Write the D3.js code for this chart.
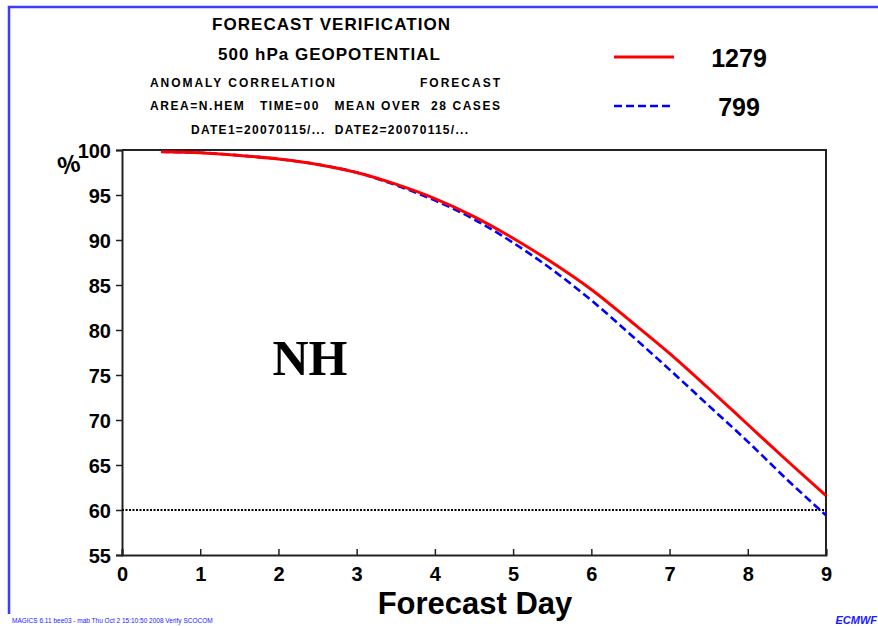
<!DOCTYPE html>
<html>
<head>
<meta charset="utf-8">
<script src="https://cdn.jsdelivr.net/npm/d3@7"></script>
<style>
  body { margin: 0; background: #fff; }
  svg { display: block; font-family: "Liberation Sans", Arial, sans-serif; }
</style>
</head>
<body>
<div id="container"></div>
<script>
/* CONSTANTS AND GLOBALS */
const width = 878,
  height = 626,
  margin = { top: 150, bottom: 71, left: 122, right: 52 };

// DATA (forecast day, anomaly correlation %)
const days = [0.5, 1, 1.5, 2, 2.5, 3, 3.5, 4, 4.5, 5, 5.5, 6, 6.5, 7, 7.5, 8, 8.5, 9];
const acc1279 = [99.8, 99.7, 99.4, 99.0, 98.4, 97.5, 96.2, 94.6, 92.6, 90.2, 87.5, 84.5, 81.0, 77.4, 73.5, 69.5, 65.5, 61.6];
const acc799 = [99.8, 99.7, 99.4, 99.0, 98.4, 97.5, 96.1, 94.4, 92.3, 89.7, 86.7, 83.3, 79.5, 75.6, 71.6, 67.6, 63.4, 59.4];
const xTicks = [0, 1, 2, 3, 4, 5, 6, 7, 8, 9];
const yTicks = [55, 60, 65, 70, 75, 80, 85, 90, 95, 100];
const refLine = 60;

const series = [
  { name: "1279", values: acc1279, color: "#ff0000", dash: null, width: 3 },
  { name: "799", values: acc799, color: "#0000ff", dash: "8,4", width: 2.6 }
];

const svg = d3.select("#container")
  .append("svg")
  .attr("width", width)
  .attr("height", height);

// BLUE PAGE FRAME
svg.append("path")
  .attr("d", `M9,614 L9,7 L${width},7`)
  .attr("fill", "none")
  .attr("stroke", "#3c3cff")
  .attr("stroke-width", 2.5);

// TITLES
const header = [
  { t: "FORECAST VERIFICATION", x: 212, y: 30, size: 17, len: 238 },
  { t: "500 hPa GEOPOTENTIAL", x: 218, y: 60, size: 17, len: 222 },
  { t: "ANOMALY CORRELATION", x: 150, y: 87, size: 12, len: 185 },
  { t: "FORECAST", x: 420, y: 87, size: 12, len: 80 },
  { t: "AREA=N.HEM   TIME=00   MEAN OVER  28 CASES", x: 150, y: 110, size: 12, len: 350 },
  { t: "DATE1=20070115/...  DATE2=20070115/...", x: 191, y: 134, size: 12, len: 277 }
];
svg.selectAll("text.header")
  .data(header)
  .join("text")
  .attr("class", "header")
  .attr("x", d => d.x)
  .attr("y", d => d.y)
  .attr("textLength", d => d.len)
  .attr("lengthAdjust", "spacing")
  .attr("xml:space", "preserve")
  .style("font-size", d => d.size + "px")
  .style("font-weight", "bold")
  .style("white-space", "pre")
  .text(d => d.t);

// SCALES
const x = d3.scaleLinear()
  .domain([0, 9])
  .range([margin.left, width - margin.right]);
const y = d3.scaleLinear()
  .domain([55, 100])
  .range([height - margin.bottom, margin.top]);

// AXES
const xAxis = svg.append("g")
  .attr("transform", `translate(0, ${y(55)})`)
  .call(d3.axisBottom(x).tickValues(xTicks).tickSize(-6).tickPadding(12).tickFormat(d3.format("d")));
const yAxis = svg.append("g")
  .attr("transform", `translate(${x(0)}, 0)`)
  .call(d3.axisLeft(y).tickValues(yTicks).tickSize(6).tickPadding(5).tickFormat(d3.format("d")));

[xAxis, yAxis].forEach(g => {
  g.select(".domain").attr("stroke", "#222").attr("stroke-width", 2);
  g.selectAll(".tick line").attr("stroke", "#222").attr("stroke-width", 1.5);
  g.selectAll(".tick text")
    .attr("fill", "#000")
    .style("font-size", "20px")
    .style("font-weight", "bold")
    .style("font-family", "'Liberation Sans', Arial, sans-serif");
});
yAxis.selectAll(".tick text").attr("dy", "0.36em");

// TOP AND RIGHT BORDER
svg.append("path")
  .attr("d", `M${x(0)},${y(100)} L${x(9)},${y(100)} L${x(9)},${y(55)}`)
  .attr("fill", "none")
  .attr("stroke", "#222")
  .attr("stroke-width", 2);

// 60% REFERENCE LINE
svg.append("line")
  .attr("x1", x(0))
  .attr("x2", x(9))
  .attr("y1", y(refLine))
  .attr("y2", y(refLine))
  .attr("stroke", "#000")
  .attr("stroke-width", 2)
  .attr("stroke-dasharray", "2,1.5");

// LINES
const line = d3.line()
  .x((d, i) => x(days[i]))
  .y(d => y(d))
  .curve(d3.curveMonotoneX);

svg.selectAll("path.series")
  .data(series.slice().reverse())
  .join("path")
  .attr("class", "series")
  .attr("d", d => line(d.values))
  .attr("fill", "none")
  .attr("stroke", d => d.color)
  .attr("stroke-width", d => d.width)
  .attr("stroke-dasharray", d => d.dash);

// LEGEND
const legend = svg.selectAll("g.legend-item")
  .data(series)
  .join("g")
  .attr("class", "legend-item")
  .attr("transform", (d, i) => `translate(614, ${57 + i * 49})`);
legend.append("line")
  .attr("x1", 0)
  .attr("x2", 60)
  .attr("stroke", d => d.color)
  .attr("stroke-width", d => d.width)
  .attr("stroke-dasharray", d => d.dash);
legend.append("text")
  .attr("x", 125)
  .attr("y", 10)
  .attr("text-anchor", "middle")
  .style("font-size", "25px")
  .style("font-weight", "bold")
  .text(d => d.name);

// AXIS TITLES AND LABELS
svg.append("text")
  .attr("x", 69)
  .attr("y", 173)
  .attr("text-anchor", "middle")
  .attr("transform", "rotate(-12, 69, 165)")
  .style("font-size", "25px")
  .style("font-weight", "bold")
  .text("%");

svg.append("text")
  .attr("x", 475)
  .attr("y", 614)
  .attr("text-anchor", "middle")
  .style("font-size", "31px")
  .style("font-weight", "bold")
  .text("Forecast Day");

svg.append("text")
  .attr("x", 310)
  .attr("y", 375)
  .attr("text-anchor", "middle")
  .style("font-family", "'Liberation Serif', 'Times New Roman', serif")
  .style("font-size", "50px")
  .style("font-weight", "bold")
  .text("NH");

// FOOTER
svg.append("text")
  .attr("x", 12)
  .attr("y", 623)
  .style("font-size", "6.5px")
  .style("fill", "#2020ff")
  .text("MAGICS 6.11 bee03 - mab Thu Oct  2 15:10:50 2008 Verify SCOCOM");

svg.append("text")
  .attr("x", 877)
  .attr("y", 624)
  .attr("text-anchor", "end")
  .style("font-size", "11px")
  .style("font-weight", "bold")
  .style("font-style", "italic")
  .style("fill", "#1a1aff")
  .text("ECMWF");
</script>
</body>
</html>
